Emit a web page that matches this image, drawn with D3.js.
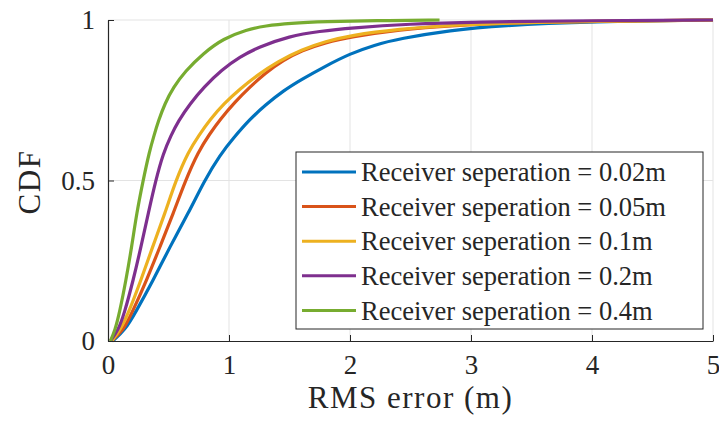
<!DOCTYPE html>
<html>
<head>
<meta charset="utf-8">
<script src="https://cdn.jsdelivr.net/npm/d3@7"></script>
<style>
  body { margin: 0; background: #fff; }
</style>
</head>
<body>
<div id="chart"></div>
<script>
// series labels + colours (matlab default order)
const seriesNames = ["Receiver seperation = 0.02m", "Receiver seperation = 0.05m",
  "Receiver seperation = 0.1m", "Receiver seperation = 0.2m", "Receiver seperation = 0.4m"];
const seriesColors = ["#0072BD", "#D95319", "#EDB120", "#7E2F8E", "#77AC30"];

// CDF points: rms error (m) and cumulative fraction
const errBlue   = [0.04, 0.14, 0.223, 0.375, 0.512, 0.664, 0.797, 0.926, 1.036, 1.17, 1.3, 1.45, 1.6, 1.79, 2.0, 2.2, 2.41, 2.83, 3.24, 4.0, 5.0];
const cdfBlue   = [0, 0.034, 0.086, 0.19, 0.294, 0.398, 0.50, 0.58, 0.632, 0.69, 0.735, 0.78, 0.815, 0.855, 0.895, 0.922, 0.942, 0.968, 0.983, 0.995, 1];
const errRed    = [0.03, 0.127, 0.196, 0.32, 0.43, 0.54, 0.64, 0.746, 0.84, 0.926, 1.05, 1.17, 1.3, 1.45, 1.6, 1.8, 2.0, 2.41, 2.83, 3.5, 5.0];
const cdfRed    = [0, 0.034, 0.086, 0.19, 0.294, 0.398, 0.50, 0.59, 0.645, 0.69, 0.745, 0.79, 0.835, 0.875, 0.905, 0.93, 0.947, 0.97, 0.983, 0.994, 1];
const errYellow = [0.03, 0.1, 0.168, 0.273, 0.369, 0.471, 0.56, 0.664, 0.75, 0.843, 0.96, 1.09, 1.24, 1.4, 1.6, 1.8, 2.0, 2.41, 2.83, 3.5, 5.0];
const cdfYellow = [0, 0.034, 0.086, 0.19, 0.294, 0.398, 0.50, 0.59, 0.64, 0.69, 0.74, 0.785, 0.83, 0.87, 0.908, 0.933, 0.952, 0.972, 0.984, 0.994, 1];
const errPurple = [0.02, 0.085, 0.135, 0.209, 0.273, 0.333, 0.394, 0.457, 0.52, 0.58, 0.68, 0.79, 0.94, 1.09, 1.24, 1.5, 1.75, 2.0, 2.5, 3.0, 4.0, 5.0];
const cdfPurple = [0, 0.034, 0.086, 0.19, 0.294, 0.398, 0.50, 0.585, 0.64, 0.685, 0.74, 0.79, 0.845, 0.885, 0.915, 0.95, 0.965, 0.975, 0.988, 0.994, 0.998, 1];
const errGreen  = [0.02, 0.058, 0.094, 0.149, 0.196, 0.237, 0.29, 0.342, 0.38, 0.416, 0.47, 0.54, 0.636, 0.79, 0.953, 1.146, 1.3, 1.5, 1.8, 2.2, 2.74];
const cdfGreen  = [0, 0.034, 0.086, 0.19, 0.294, 0.398, 0.50, 0.59, 0.64, 0.685, 0.74, 0.79, 0.84, 0.897, 0.942, 0.97, 0.982, 0.99, 0.995, 0.998, 1];

const xTicks = [0, 1, 2, 3, 4, 5];
const yTicks = [0, 0.5, 1];

const W = 719, H = 423;
const margin = {top: 20, right: 6, bottom: 82, left: 108};
const iw = W - margin.left - margin.right, ih = H - margin.top - margin.bottom;
const serif = '"Liberation Serif", "Times New Roman", Times, serif';
const ink = "#262626";

const series = [[errBlue, cdfBlue], [errRed, cdfRed], [errYellow, cdfYellow],
  [errPurple, cdfPurple], [errGreen, cdfGreen]].map((s, i) => ({
    name: seriesNames[i], color: seriesColors[i],
    pts: s[0].map((x, j) => [x, s[1][j]])
  }));

const svg = d3.select("#chart").append("svg").attr("width", W).attr("height", H);
const g = svg.append("g").attr("transform", `translate(${margin.left},${margin.top})`);

const x = d3.scaleLinear().domain([0, 5]).range([0, iw]);
const y = d3.scaleLinear().domain([0, 1]).range([ih, 0]);

// grid
g.append("g").selectAll("line").data(xTicks.slice(1)).join("line")
  .attr("x1", d => x(d)).attr("x2", d => x(d)).attr("y1", 0).attr("y2", ih)
  .attr("stroke", "#e3e3e3").attr("stroke-width", 1);
g.append("g").selectAll("line").data(yTicks.slice(1)).join("line")
  .attr("x1", 0).attr("x2", iw).attr("y1", d => y(d)).attr("y2", d => y(d))
  .attr("stroke", "#e3e3e3").attr("stroke-width", 1);

// curves (basis smooths out reading noise)
const line = d3.line().x(d => x(d[0])).y(d => y(d[1])).curve(d3.curveBasis);
g.append("g").selectAll("path").data(series).join("path")
  .attr("d", d => line(d.pts))
  .attr("fill", "none").attr("stroke", d => d.color).attr("stroke-width", 3.2)
  .attr("stroke-linejoin", "round");

// axes (inward ticks, box off)
const xAxis = g.append("g").attr("transform", `translate(0,${ih})`)
  .call(d3.axisBottom(x).tickValues(xTicks).tickFormat(d3.format("d")).tickSizeInner(-6).tickSizeOuter(0).tickPadding(14));
const yAxis = g.append("g")
  .call(d3.axisLeft(y).tickValues(yTicks).tickFormat(d => d === 0.5 ? "0.5" : d3.format("d")(d)).tickSizeInner(-6).tickSizeOuter(0).tickPadding(13));
[xAxis, yAxis].forEach(a => {
  a.select(".domain").attr("stroke", ink).attr("stroke-width", 1.2);
  a.selectAll(".tick line").attr("stroke", ink);
  a.selectAll(".tick text").style("font-family", serif).style("font-size", "27px").attr("fill", ink);
});

// axis labels
svg.append("text").attr("x", margin.left + iw / 2).attr("y", 408)
  .attr("text-anchor", "middle").attr("fill", ink)
  .style("font-family", serif).style("font-size", "31px").style("letter-spacing", "1.5px")
  .text("RMS error (m)");
svg.append("text").attr("transform", `translate(40,182) rotate(-90)`)
  .attr("text-anchor", "middle").attr("fill", ink)
  .style("font-family", serif).style("font-size", "31px").style("letter-spacing", "1.5px")
  .text("CDF");

// legend
const leg = svg.append("g").attr("transform", "translate(296,152)");
leg.append("rect").attr("width", 407).attr("height", 177)
  .attr("fill", "#fff").attr("stroke", ink).attr("stroke-width", 1);
const rows = leg.selectAll("g.row").data(series).join("g")
  .attr("transform", (d, i) => `translate(0,${20 + i * 34.6})`);
rows.append("line").attr("x1", 6).attr("x2", 60)
  .attr("stroke", d => d.color).attr("stroke-width", 3);
rows.append("text").attr("x", 65).attr("dy", "0.35em").attr("fill", ink)
  .style("font-family", serif).style("font-size", "26.5px").text(d => d.name);
</script>
</body>
</html>
